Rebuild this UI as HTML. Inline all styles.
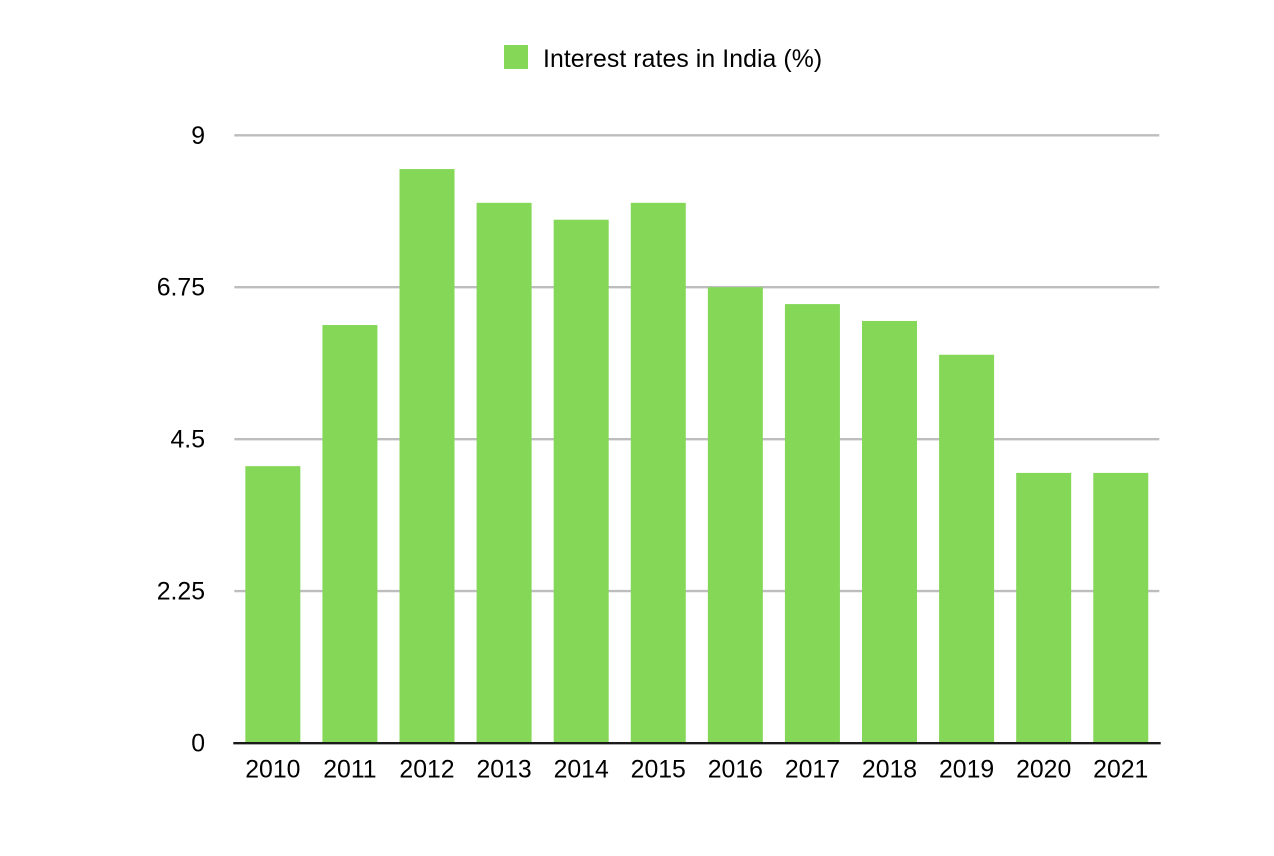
<!DOCTYPE html>
<html>
<head>
<meta charset="utf-8">
<title>Interest rates in India</title>
<style>
  html, body { margin: 0; padding: 0; background: #ffffff; }
  svg { display: block; font-family: "Liberation Sans", sans-serif; }
  text { fill: #000000; font-size: 24.8px; }
</style>
</head>
<body>
<svg id="chart" xmlns="http://www.w3.org/2000/svg" width="1274" height="856" viewBox="0 0 1274 856">
  <rect x="0" y="0" width="1274" height="856" fill="#ffffff"></rect>
  <g id="legend">
    <rect x="504" y="45" width="24" height="24" fill="#84d757"></rect>
    <text x="543" y="67" letter-spacing="0.08">Interest rates in India (%)</text>
  </g>
  <g id="grid"></g>
  <g id="bars"></g>
  <g id="y-ticks"></g>
  <g id="x-ticks"></g>
  <line x1="233.3" x2="1160.7" y1="743.2" y2="743.2" stroke="#1a1a1a" stroke-width="2.4"></line>
</svg>
<script>
const categories = ["2010", "2011", "2012", "2013", "2014", "2015", "2016", "2017", "2018", "2019", "2020", "2021"];
const rates = [4.1, 6.19, 8.5, 8, 7.75, 8, 6.75, 6.5, 6.25, 5.75, 4, 4];
const yTicks = [0, 2.25, 4.5, 6.75, 9];
const yMax = 9;

const NS = "http://www.w3.org/2000/svg";
const plot = { left: 234.3, right: 1159.3, top: 135.3, bottom: 743 };
const barRatio = 0.7135;

function yScale(v) {
  return plot.bottom - (v / yMax) * (plot.bottom - plot.top);
}
function bandWidth() {
  return (plot.right - plot.left) / categories.length;
}
function xCenter(i) {
  return plot.left + bandWidth() * (i + 0.5);
}
function make(tag, attrs, parent) {
  const el = document.createElementNS(NS, tag);
  for (const k in attrs) el.setAttribute(k, attrs[k]);
  parent.appendChild(el);
  return el;
}

const gridG = document.getElementById("grid");
const barsG = document.getElementById("bars");
const yG = document.getElementById("y-ticks");
const xG = document.getElementById("x-ticks");

yTicks.forEach(function (t) {
  if (t !== 0) {
    const line = make("line", { x1: plot.left, x2: plot.right, y1: yScale(t), y2: yScale(t), stroke: "#bdbdbd", "stroke-width": 2.4 }, gridG);
    
    
  }
  const label = make("text", { x: 205, y: yScale(t) + 8.5, "text-anchor": "end" }, yG);
  
  
  label.textContent = String(t);
});

categories.forEach(function (c, i) {
  const w = bandWidth() * barRatio;
  const bar = make("rect", { x: xCenter(i) - w / 2, y: yScale(rates[i]), width: w, height: plot.bottom - yScale(rates[i]), fill: "#84d757" }, barsG);
  
  
  const label = make("text", { x: xCenter(i), y: 777.5, "text-anchor": "middle" }, xG);
  
  
  label.textContent = c;
});
</script>
</body>
</html>
